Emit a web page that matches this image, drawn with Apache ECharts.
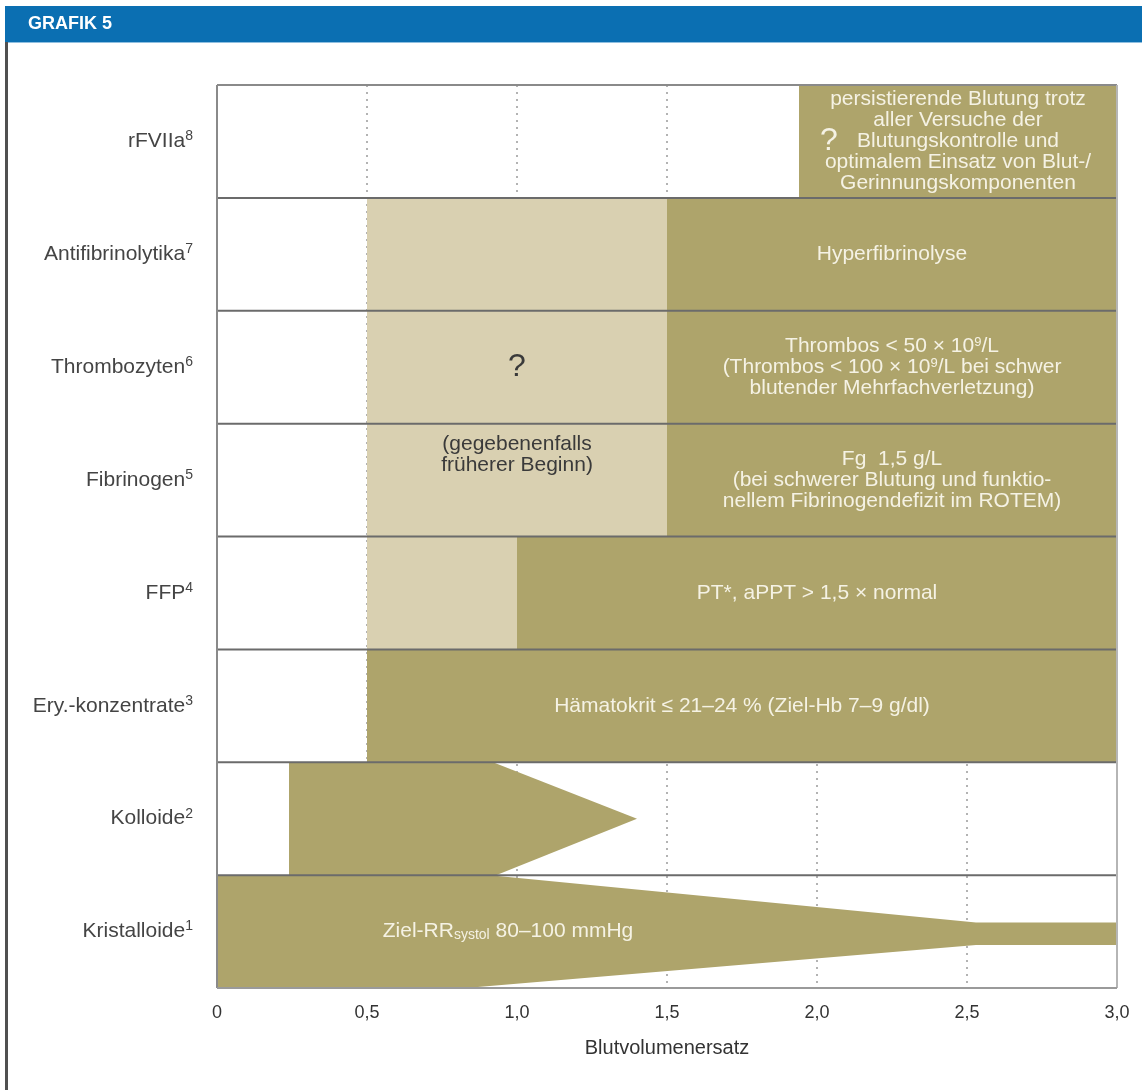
<!DOCTYPE html>
<html>
<head>
<meta charset="utf-8">
<script src="https://cdn.jsdelivr.net/npm/echarts@6/dist/echarts.min.js"></script>
<style>
html,body{margin:0;padding:0;background:#fff;}
#c{width:1142px;height:1090px;}
</style>
</head>
<body>
<div id="c"></div>
<script>
// ---------- data ----------
const categories = ['Kristalloide','Kolloide','Ery.-konzentrate','FFP','Fibrinogen','Thrombozyten','Antifibrinolytika','rFVIIa'];
const footnotes  = ['1','2','3','4','5','6','7','8'];
const xMin = 0, xMax = 3, xStep = 0.5;

// rectangular segments
const segRow   = ['rFVIIa','Antifibrinolytika','Antifibrinolytika','Thrombozyten','Thrombozyten','Fibrinogen','Fibrinogen','FFP','FFP','Ery.-konzentrate'];
const segStart = [1.94, 0.5, 1.5, 0.5, 1.5, 0.5, 1.5, 0.5, 1.0, 0.5];
const segEnd   = [3.0,  1.5, 3.0, 1.5, 3.0, 1.5, 3.0, 1.0, 3.0, 3.0];
const segTone  = ['dark','light','dark','light','dark','light','dark','light','dark','dark'];
const segText  = [
  'persistierende Blutung trotz\naller Versuche der\nBlutungskontrolle und\noptimalem Einsatz von Blut-/\nGerinnungskomponenten',
  '',
  'Hyperfibrinolyse',
  '',
  'Thrombos < 50 × 10{sup|9}/L\n(Thrombos < 100 × 10{sup|9}/L bei schwer\nblutender Mehrfachverletzung)',
  '(gegebenenfalls\nfrüherer Beginn)',
  'Fg  1,5 g/L\n(bei schwerer Blutung und funktio-\nnellem Fibrinogendefizit im ROTEM)',
  '',
  'PT*, aPPT > 1,5 × normal',
  'Hämatokrit ≤ 21–24 % (Ziel-Hb 7–9 g/dl)'
];
const segTextAtTop = [false,false,false,false,false,true,false,false,false,false];

// tapered shapes (x in Blutvolumenersatz, y as fraction of the row height)
const shapeRow = ['Kolloide','Kristalloide'];
const kolloideOutline     = [[0.24,0],[0.24,1],[0.92,1],[1.40,0.5],[0.93,0]];
const kristalloideOutline = [[0,0],[0,1],[0.91,1],[2.53,0.58],[3.0,0.58],[3.0,0.38],[2.53,0.38],[0.83,0]];
const shapeOutlines = [kolloideOutline, kristalloideOutline];
const shapeText   = ['', '{a|Ziel-RR}{b|systol}{a| 80–100 mmHg}'];
const shapeTextAt = [null, [0.97, 0.5]];

// question marks
const noteRow  = ['rFVIIa','Thrombozyten'];
const noteX    = [2.04, 1.0];
const noteTone = ['dark','light'];

// ---------- style ----------
const DARK = '#aea46b', LIGHT = '#d9d0b1';
const WHITE_TXT = '#f5f2e4', DARK_TXT = '#3a3a3a';
const FONT = '"Liberation Sans", Arial, sans-serif';
const BODY = 21;

const chart = echarts.init(document.getElementById('c'), null, {renderer:'canvas'});

const segData = segStart.map((s,i)=>[categories.indexOf(segRow[i]), s, segEnd[i]]);

function renderSeg(params, api){
  const i = params.dataIndex;
  const row = api.value(0);
  const p0 = api.coord([api.value(1), row+1]);
  const p1 = api.coord([api.value(2), row]);
  const dark = segTone[i]==='dark';
  const children = [{
    type:'rect',
    shape:{x:p0[0], y:p0[1], width:p1[0]-p0[0], height:p1[1]-p0[1]},
    style:{fill: dark ? DARK : LIGHT}
  }];
  if (segText[i]) {
    children.push({
      type:'text',
      x:(p0[0]+p1[0])/2,
      y: segTextAtTop[i] ? p0[1]+10 : (p0[1]+p1[1])/2,
      style:{
        text: segText[i],
        align:'center',
        verticalAlign: segTextAtTop[i] ? 'top' : 'middle',
        fill: dark ? WHITE_TXT : DARK_TXT,
        font: BODY + 'px ' + FONT,
        lineHeight: 21,
        rich:{ sup:{fontSize:13, lineHeight:13, verticalAlign:'top', fill: dark ? WHITE_TXT : DARK_TXT, font:'13px '+FONT} }
      }
    });
  }
  return {type:'group', children};
}

function renderShape(params, api){
  const i = params.dataIndex;
  const row = api.value(0);
  const pts = shapeOutlines[i].map(p=>api.coord([p[0], row+p[1]]));
  const children = [{type:'polygon', shape:{points:pts}, style:{fill:DARK}}];
  if (shapeText[i]) {
    const at = api.coord([shapeTextAt[i][0], row+shapeTextAt[i][1]]);
    children.push({
      type:'text', x:at[0], y:at[1],
      style:{
        text: shapeText[i], align:'center', verticalAlign:'middle',
        fill: WHITE_TXT,
        rich:{
          a:{font:BODY+'px '+FONT, fontSize:BODY, lineHeight:22, fill:WHITE_TXT},
          b:{font:'14px '+FONT, fontSize:14, lineHeight:14, verticalAlign:'bottom', fill:WHITE_TXT}
        }
      }
    });
  }
  return {type:'group', children};
}

function renderNote(params, api){
  const i = params.dataIndex;
  const row = api.value(0);
  const p = api.coord([api.value(1), row+0.5]);
  return {
    type:'text', x:p[0], y:p[1],
    style:{text:'?', align:'center', verticalAlign:'middle',
      fill: noteTone[i]==='dark' ? WHITE_TXT : DARK_TXT,
      font:'32px '+FONT}
  };
}

function renderFrame(params, api){
  const cs = params.coordSys;
  const children = [];
  for (let k=1; k<categories.length; k++){
    const y = api.coord([0,k])[1];
    children.push({type:'line', shape:{x1:cs.x, y1:y, x2:cs.x+cs.width, y2:y},
      style:{stroke:'#6b6b6b', lineWidth:2}});
  }
  children.push({type:'line', shape:{x1:cs.x, y1:cs.y, x2:cs.x+cs.width, y2:cs.y}, style:{stroke:'#8a8a8a', lineWidth:2}});
  children.push({type:'line', shape:{x1:cs.x, y1:cs.y, x2:cs.x, y2:cs.y+cs.height}, style:{stroke:'#8a8a8a', lineWidth:2}});
  children.push({type:'line', shape:{x1:cs.x+cs.width, y1:cs.y, x2:cs.x+cs.width, y2:cs.y+cs.height}, style:{stroke:'#b5b5b5', lineWidth:2}});
  children.push({type:'line', shape:{x1:cs.x, y1:cs.y+cs.height, x2:cs.x+cs.width, y2:cs.y+cs.height}, style:{stroke:'#9a9a9a', lineWidth:2}});
  return {type:'group', children};
}

const option = {
  animation:false,
  backgroundColor:'#ffffff',
  graphic:[
    {type:'rect', shape:{x:5, y:6, width:1137, height:36}, style:{fill:'#0b6fb2'}, z:10},
    {type:'rect', shape:{x:5, y:42, width:1137, height:1}, style:{fill:'#8fbfe0'}, z:10},
    {type:'text', x:28, y:24, style:{text:'GRAFIK 5', fill:'#ffffff', font:'bold 18px '+FONT, verticalAlign:'middle'}, z:11},
    {type:'rect', shape:{x:5, y:42, width:3, height:1048}, style:{fill:'#505050'}, z:10}
  ],
  grid:{left:217, right:25, top:85, bottom:102, containLabel:false},
  xAxis:{
    type:'value', min:xMin, max:xMax, interval:xStep,
    axisLine:{show:false}, axisTick:{show:false},
    axisLabel:{color:'#333', fontSize:18, fontFamily:FONT, margin:16,
      formatter:v=> v===0 ? '0' : v.toFixed(1).replace('.', ',')},
    splitLine:{show:true, lineStyle:{type:[2,5], color:'#9a9a9a', width:1.5}},
    name:'Blutvolumenersatz', nameLocation:'middle', nameGap:50,
    nameTextStyle:{color:'#333', fontSize:20, fontFamily:FONT}
  },
  yAxis:[
    {
      type:'category', data:categories,
      axisLine:{show:false}, axisTick:{show:false}, splitLine:{show:false},
      axisLabel:{
        margin:24,
        formatter:(v,i)=>'{n|'+v+'}{s|'+footnotes[i]+'}',
        rich:{
          n:{color:'#444', fontSize:21, fontFamily:FONT, lineHeight:24},
          s:{color:'#444', fontSize:14, fontFamily:FONT, lineHeight:14, verticalAlign:'top'}
        }
      }
    },
    {type:'value', min:0, max:categories.length, show:false, splitLine:{show:false}}
  ],
  series:[
    {type:'custom', name:'segments', yAxisIndex:1, renderItem:renderSeg,
      encode:{x:[1,2], y:0}, data:segData, z:2, silent:true},
    {type:'custom', name:'shapes', yAxisIndex:1, renderItem:renderShape,
      encode:{y:0}, data:shapeRow.map(r=>[categories.indexOf(r)]), z:2, silent:true},
    {type:'custom', name:'notes', yAxisIndex:1, renderItem:renderNote,
      encode:{x:1, y:0}, data:noteRow.map((r,i)=>[categories.indexOf(r), noteX[i]]), z:3, silent:true},
    {type:'custom', name:'frame', yAxisIndex:1, renderItem:renderFrame,
      encode:{x:1, y:0}, data:[[0,0]], z:4, silent:true, clip:false}
  ]
};
chart.setOption(option);
</script>
</body>
</html>
